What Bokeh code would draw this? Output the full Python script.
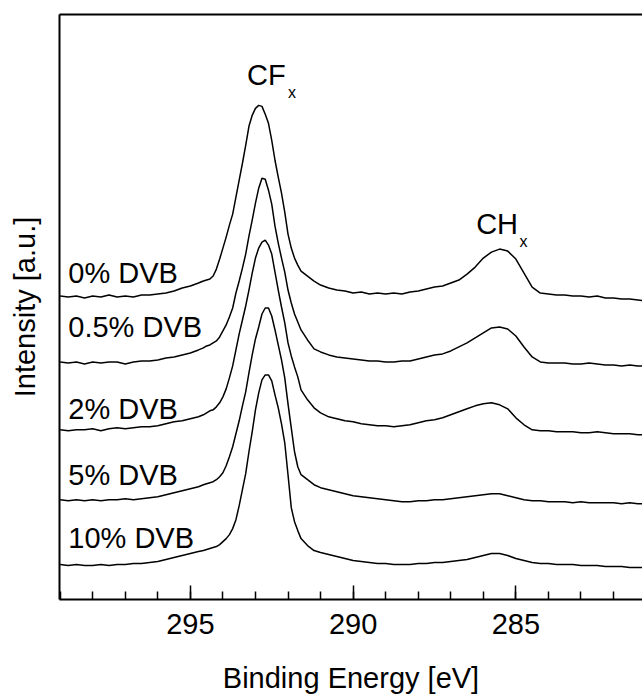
from bokeh.plotting import figure
from bokeh.models import Range1d, SingleIntervalTicker, FixedTicker, LinearAxis, Label
from bokeh.embed import file_html
from bokeh.resources import INLINE

# ---- data ----
binding_energy = [
    299.0, 298.75, 298.5, 298.25, 298.0, 297.75, 297.5, 297.25, 297.0, 296.75, 296.5, 296.25,
    296.0, 295.75, 295.5, 295.25, 295.0, 294.75,
    294.6, 294.5, 294.4, 294.3, 294.2, 294.1, 294.0, 293.9, 293.8, 293.7, 293.6, 293.5, 293.4,
    293.3, 293.2, 293.1, 293.0, 292.9, 292.8, 292.7, 292.6, 292.5, 292.4, 292.3, 292.2, 292.1,
    292.0, 291.9, 291.8, 291.7, 291.6,
    291.4, 291.2, 291.0, 290.75, 290.5, 290.25, 290.0, 289.75, 289.5, 289.25, 289.0, 288.75,
    288.5, 288.25, 288.0, 287.75, 287.5, 287.25, 287.0, 286.75, 286.5, 286.25, 286.0, 285.75,
    285.5, 285.25, 285.0, 284.75, 284.5, 284.25, 284.0, 283.75, 283.5, 283.25, 283.0, 282.75,
    282.5, 282.25, 282.0, 281.75, 281.5, 281.25, 281.0,
]

dvb_0 = [
    304, 303, 304, 302, 304, 303, 305, 303, 304, 303, 305, 305, 306, 307, 309, 312, 314, 317,
    319, 320, 321, 324, 331, 341, 352, 363, 375, 386, 403, 420, 437, 455, 474, 485, 492, 495,
    494, 486, 477, 460, 440, 423, 407, 388, 366, 352, 342, 335, 329,
    324, 319, 315, 312, 310, 309, 307, 308, 306, 307, 306, 307, 306, 308, 309, 311, 313, 314,
    317, 320, 326, 333, 342, 348, 351, 349, 341, 327, 313, 307, 306, 305, 305, 304, 304, 303,
    304, 302, 302, 301, 301, 300, 299,
]
dvb_05 = [
    238, 237, 238, 236, 238, 237, 238, 238, 236, 238, 239, 239, 240, 242, 243, 245, 247, 250,
    252, 254, 255, 257, 259, 263, 269, 275, 283, 292, 307, 319, 332, 346, 364, 380, 397, 412,
    422, 421, 410, 396, 374, 357, 342, 328, 310, 297, 286, 278, 270,
    260, 251, 248, 245, 243, 242, 241, 240, 239, 239, 238, 238, 239, 239, 241, 243, 245, 246,
    249, 253, 257, 262, 267, 272, 273, 271, 264, 253, 243, 238, 237, 237, 237, 236, 236, 237,
    236, 235, 235, 234, 235, 234, 234,
]
dvb_2 = [
    170, 169, 170, 170, 171, 169, 171, 172, 171, 172, 173, 173, 174, 176, 178, 179, 181, 183,
    185, 187, 189, 190, 193, 197, 203, 211, 222, 234, 250, 266, 280, 294, 310, 327, 342, 352,
    358, 360, 355, 346, 328, 310, 293, 277, 257, 244, 233, 223, 210,
    200, 192, 187, 183, 181, 179, 178, 176, 175, 174, 174, 173, 174, 175, 177, 179, 180, 182,
    185, 188, 191, 194, 196, 197, 195, 191, 182, 175, 170, 169, 169, 168, 168, 168, 167, 167,
    168, 167, 166, 166, 166, 165, 165,
]
dvb_5 = [
    100, 99, 100, 99, 100, 99, 100, 100, 101, 100, 101, 102, 103, 105, 107, 109, 111, 113,
    115, 116, 117, 118, 120, 123, 127, 134, 143, 153, 166, 179, 194, 208, 227, 245, 261, 273,
    286, 292, 292, 284, 270, 255, 240, 222, 196, 172, 148, 133, 125,
    120, 115, 112, 110, 108, 106, 104, 103, 102, 101, 100, 99, 98, 98, 99, 99, 100, 100,
    101, 102, 103, 104, 105, 106, 106, 104, 102, 100, 99, 99, 98, 98, 98, 97, 98, 97,
    97, 97, 97, 96, 97, 96, 96,
]
dvb_10 = [
    35, 34, 35, 34, 34, 35, 34, 35, 35, 36, 36, 37, 38, 40, 42, 44, 46, 48,
    49, 50, 51, 52, 53, 55, 58, 61, 65, 71, 80, 94, 110, 126, 148, 168, 190, 207,
    220, 225, 225, 219, 205, 192, 176, 157, 125, 92, 78, 69, 61,
    54, 49, 47, 45, 43, 41, 39, 38, 37, 36, 36, 35, 35, 35, 36, 36, 37, 37,
    38, 39, 40, 42, 44, 46, 46, 44, 41, 39, 37, 36, 36, 35, 35, 35, 34, 34,
    34, 33, 33, 33, 32, 32, 32,
]

series = [dvb_0, dvb_05, dvb_2, dvb_5, dvb_10]
sample_labels = ["0% DVB", "0.5% DVB", "2% DVB", "5% DVB", "10% DVB"]
sample_label_y = [327, 273, 191, 125, 62]
sample_label_x = 298.75

peak_labels = ["CF", "CH"]
peak_label_x = [293.26, 286.22]
peak_label_y = [525, 376]
peak_sub = ["x", "x"]
peak_sub_x = [292.0, 284.89]
peak_sub_y = [508, 359]

x_title = "Binding Energy [eV]"
y_title = "Intensity [a.u.]"

FONT = "Liberation Sans"
FS = "29px"

p = figure(width=642, height=696, output_backend="svg", toolbar_location=None,
           x_range=Range1d(299.02, 281.11), y_range=Range1d(0, 586),
           min_border_left=59, min_border_right=0, min_border_top=14, min_border_bottom=96)
p.outline_line_color = None
p.grid.visible = False
p.background_fill_color = "white"
p.border_fill_color = "white"

for s in series:
    p.line(binding_energy, s, line_color="black", line_width=1.5)

xa = p.xaxis[0]
xa.ticker = SingleIntervalTicker(interval=5, num_minor_ticks=5)
xa.major_tick_in = 14
xa.major_tick_out = 0
xa.minor_tick_in = 8
xa.minor_tick_out = 0
xa.axis_line_width = 2
xa.major_tick_line_width = 1.5
xa.minor_tick_line_width = 1.5
xa.major_label_text_font = FONT
xa.major_label_text_font_size = FS
xa.major_label_text_color = "black"
xa.major_label_standoff = 14
xa.axis_label = x_title
xa.axis_label_text_font = FONT
xa.axis_label_text_font_size = FS
xa.axis_label_text_font_style = "normal"
xa.axis_label_text_color = "black"
xa.axis_label_standoff = 25

ya = p.yaxis[0]
ya.ticker = FixedTicker(ticks=[])
ya.major_tick_line_color = None
ya.minor_tick_line_color = None
ya.axis_line_width = 2
ya.axis_label = y_title
ya.axis_label_text_font = FONT
ya.axis_label_text_font_size = FS
ya.axis_label_text_font_style = "normal"
ya.axis_label_text_color = "black"
ya.axis_label_standoff = 19

top = LinearAxis(ticker=FixedTicker(ticks=[]), axis_line_width=2,
                 major_tick_line_color=None, minor_tick_line_color=None,
                 major_label_text_font_size="0px")
p.add_layout(top, "above")

for txt, yv in zip(sample_labels, sample_label_y):
    p.add_layout(Label(x=sample_label_x, y=yv, text=txt, text_font=FONT, text_font_size=FS,
                       text_color="black", text_align="left", text_baseline="alphabetic"))

for txt, xv, yv in zip(peak_labels, peak_label_x, peak_label_y):
    p.add_layout(Label(x=xv, y=yv, text=txt, text_font=FONT, text_font_size=FS,
                       text_color="black", text_align="left", text_baseline="alphabetic"))
for txt, xv, yv in zip(peak_sub, peak_sub_x, peak_sub_y):
    p.add_layout(Label(x=xv, y=yv, text=txt, text_font=FONT, text_font_size="16px",
                       text_color="black", text_align="left", text_baseline="alphabetic"))

open("out.html", "w").write(file_html(p, INLINE))
